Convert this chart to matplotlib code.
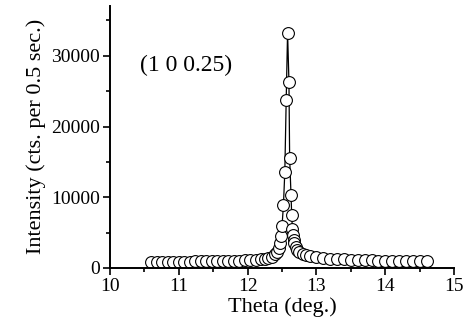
import matplotlib.pyplot as plt
import numpy as np

theta = [10.60, 10.68, 10.76, 10.84, 10.92, 11.00, 11.08, 11.16, 11.24, 11.32,
         11.40, 11.48, 11.56, 11.64, 11.72, 11.80, 11.88, 11.96, 12.04, 12.12,
         12.20, 12.25, 12.3, 12.35, 12.4, 12.43, 12.45,
         12.47, 12.49, 12.50, 12.52, 12.54, 12.56, 12.58, 12.60, 12.61, 12.63,
         12.64, 12.65, 12.66, 12.67, 12.68, 12.70, 12.72, 12.75, 12.8, 12.85,
         12.9, 13.0, 13.1, 13.2, 13.3, 13.4, 13.5, 13.6, 13.7, 13.8, 13.9, 14.0,
         14.1, 14.2, 14.3, 14.4, 14.5, 14.6]
counts = [850, 855, 860, 865, 870, 880, 890, 900, 910, 920,
          930, 945, 960, 975, 990, 1010, 1035, 1060, 1100, 1150,
          1220, 1300, 1420, 1600, 1900, 2300, 2800,
          3500, 4500, 6000, 8900, 13600, 23800, 33300, 26300, 15600, 10300,
          7500, 5500, 4600, 4000, 3500, 3000, 2600, 2300, 2000, 1800,
          1650, 1500, 1400, 1330, 1270, 1220, 1180, 1140, 1110, 1080, 1050, 1030,
          1010, 990, 970, 950, 930, 910]
label = "(1 0 0.25)"

plt.rcParams['font.family'] = ['Liberation Serif', 'DejaVu Serif']
plt.rcParams['font.size'] = 14

fig = plt.figure(figsize=(4.67, 3.32), dpi=100)
ax = fig.add_axes([0.2355, 0.193, 0.737, 0.79])
ax.plot(theta, counts, '-', color='black', lw=0.9, marker='o', ms=8.5,
        mfc='white', mec='black', mew=0.8)

ax.set_xlim(10, 15)
ax.set_ylim(0, 37100)
ax.set_xticks(np.arange(10, 15.1, 1))
ax.set_xticks(np.arange(10.5, 15, 1), minor=True)
ax.set_yticks([0, 10000, 20000, 30000])
ax.set_yticks([5000, 15000, 25000, 35000], minor=True)
ax.tick_params(which='major', direction='out', length=5, width=1.2, labelsize=14, pad=2)
ax.tick_params(which='minor', direction='out', length=3, width=1.2)
for s in ['top', 'right']:
    ax.spines[s].set_visible(False)
for s in ['left', 'bottom']:
    ax.spines[s].set_linewidth(1.4)

ax.text(10.44, 28600, label, fontsize=17, va='center', ha='left')
ax.set_xlabel("Theta (deg.)", fontsize=16, labelpad=2)
ax.set_ylabel("Intensity (cts. per 0.5 sec.)", fontsize=16, labelpad=4)

fig.savefig("out.png", dpi=100)
